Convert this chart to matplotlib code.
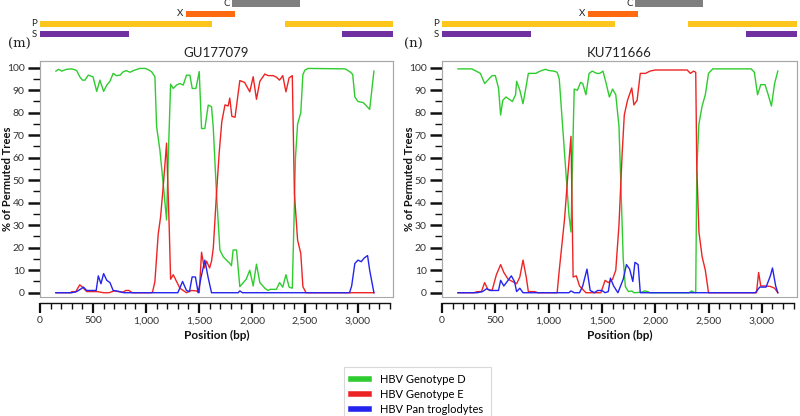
import matplotlib
matplotlib.use("Agg")
import matplotlib.pyplot as plt
from matplotlib.patches import Rectangle
from matplotlib.lines import Line2D
from matplotlib.ticker import FuncFormatter

# ---------------- data ----------------
series_names = ["HBV Genotype D", "HBV Genotype E", "HBV Pan troglodytes"]
series_colors = ["#2ecc2e", "#ee2424", "#2424ee"]

# Panel (m) GU177079 : (position bp, % permuted trees)
m_green = [(150, 98.5), (175, 99.3), (205, 98.5), (250, 99.3), (300, 99.5), (345, 98.8), (375, 96), (400, 94.5),
           (425, 94.5), (455, 96.7), (500, 96), (535, 89.5), (565, 94.5), (600, 89.5), (630, 92.3), (660, 94),
           (690, 97.5), (720, 96.5), (755, 96.7), (785, 98.2), (815, 98.7), (850, 98), (880, 98.7), (940, 99.7),
           (990, 99.7), (1020, 99.2), (1053, 98.2), (1084, 96), (1100, 73.8), (1131, 63.4), (1162, 48.6),
           (1194, 32.3), (1210, 60), (1232, 92.7), (1257, 90.8), (1288, 92.3), (1320, 93), (1351, 92.3),
           (1382, 96.7), (1414, 96.7), (1436, 90.8), (1471, 90.8), (1502, 98.3), (1524, 73), (1555, 73),
           (1587, 83.4), (1618, 82.7), (1634, 73.8), (1665, 44), (1697, 19), (1728, 16), (1759, 14.5), (1791, 13),
           (1806, 12), (1822, 19), (1854, 19), (1885, 2.7), (1945, 6), (1979, 10), (2011, 3), (2042, 12.7),
           (2074, 4.5), (2121, 2), (2152, 1), (2170, 1.5), (2230, 1.5), (2260, 4.5), (2290, 2.5), (2320, 8),
           (2350, 2.5), (2380, 2), (2395, 30), (2410, 60), (2430, 75), (2460, 80), (2480, 97), (2500, 99),
           (2530, 99.7), (2880, 99.5), (2930, 98), (2950, 97), (2970, 87), (3000, 85), (3050, 84.5), (3080, 83),
           (3110, 81.5), (3150, 98.5)]
m_red = [(150, 0), (290, 0), (300, 0.5), (335, 0.3), (375, 3.5), (400, 2.5), (420, 1.5), (440, 0.5), (480, 0.5),
         (540, 0.5), (600, 0), (650, 0), (700, 0.8), (740, 0.5), (780, 0.2), (810, 1), (840, 1), (870, 0),
         (1050, 0), (1062, 0.4), (1084, 5), (1115, 26), (1137, 33.5), (1162, 47), (1194, 66.5), (1219, 29),
         (1232, 6), (1257, 8), (1288, 5), (1320, 2), (1382, 0), (1429, 1), (1476, 0.8), (1502, 0), (1524, 18),
         (1549, 11), (1571, 14), (1600, 11), (1618, 14), (1635, 20), (1665, 44), (1690, 62), (1715, 76),
         (1745, 83.5), (1775, 83), (1790, 86.5), (1810, 78.4), (1840, 78), (1885, 94.3), (1930, 93.5),
         (1979, 89.3), (2011, 96), (2042, 86), (2074, 94), (2121, 97.2), (2152, 96.5), (2200, 96.5),
         (2230, 95.8), (2260, 94.5), (2290, 96.5), (2320, 89.3), (2350, 95.5), (2380, 96.5), (2400, 44),
         (2430, 23.4), (2460, 17.5), (2480, 2.7), (2510, 0), (3150, 0)]
m_blue = [(150, 0), (300, 0), (345, 0.5), (380, 1.5), (410, 2.5), (440, 1), (470, 1), (500, 1), (530, 1),
          (550, 7.5), (575, 4), (600, 8.5), (630, 5.5), (660, 4.5), (690, 1), (720, 0.8), (750, 0.5), (790, 0),
          (1300, 0), (1345, 5), (1382, 1), (1410, 0.5), (1435, 7), (1466, 7), (1492, 0), (1520, 7), (1555, 14.5),
          (1585, 7), (1618, 0), (1870, 0), (1885, 0.8), (1910, 0), (2920, 0), (2940, 3), (2970, 13), (3000, 14.5),
          (3030, 13.8), (3060, 15.5), (3090, 16.5), (3110, 10), (3150, 0)]

# Panel (n) KU711666
n_green = [(150, 99.5), (250, 99.5), (280, 99.5), (320, 98.5), (360, 97.5), (400, 93), (440, 95), (470, 96.5),
           (500, 96.5), (530, 91), (550, 79), (570, 85.5), (600, 87), (630, 86), (660, 85), (690, 88), (700, 94),
           (730, 90), (760, 84), (790, 92), (810, 97.5), (850, 97.5), (880, 97.5), (920, 98.5), (970, 99.3),
           (1000, 98.8), (1050, 98.5), (1080, 98), (1100, 95), (1130, 75), (1160, 55), (1190, 35), (1210, 27),
           (1225, 60), (1240, 90.5), (1270, 90), (1300, 93.5), (1320, 93), (1350, 88), (1380, 97.5), (1410, 98.5),
           (1450, 97.5), (1480, 97.5), (1510, 98.5), (1540, 93), (1570, 87), (1600, 90.5), (1630, 88), (1660, 74),
           (1680, 45), (1700, 15), (1720, 2.7), (1750, 0.5), (1780, 0.8), (1800, 0), (1870, 0.2), (1900, 0.8),
           (1930, 0.5), (1950, 0), (2320, 0), (2340, 0.8), (2360, 0.3), (2380, 0), (2390, 55), (2410, 75),
           (2440, 83), (2470, 88), (2500, 97.5), (2540, 99.5), (2900, 99.5), (2930, 98), (2960, 88), (2990, 92.5),
           (3030, 92.5), (3060, 88), (3090, 83), (3120, 93), (3150, 98.5)]
n_red = [(150, 0), (300, 0), (330, 0.5), (370, 0.5), (400, 4.5), (430, 1.5), (470, 1), (510, 8), (550, 12.5),
         (580, 9), (620, 6), (660, 5), (700, 4), (730, 7), (760, 14.5), (790, 7), (810, 0.5), (840, 0.5),
         (870, 0.5), (900, 0), (1080, 0), (1100, 10), (1150, 33), (1180, 52), (1210, 69.5), (1230, 7),
         (1260, 7.5), (1290, 3), (1350, 0), (1490, 0), (1530, 5.5), (1560, 4.5), (1600, 6), (1630, 10),
         (1660, 30), (1690, 62), (1710, 79), (1740, 85.5), (1780, 91), (1800, 83.5), (1830, 85.5), (1860, 97.5),
         (1910, 97.5), (1950, 98.5), (2000, 99), (2300, 99), (2330, 97.5), (2360, 98.5), (2380, 98), (2390, 56),
         (2410, 27), (2440, 16), (2470, 10), (2500, 0), (2950, 0), (2970, 9), (2990, 3), (3030, 3), (3080, 2.8),
         (3120, 2), (3150, 0)]
n_blue = [(150, 0), (330, 0), (380, 0.5), (420, 1.8), (450, 1), (490, 1), (530, 1), (550, 5.5), (580, 3),
          (620, 5.5), (650, 7.5), (680, 5), (700, 0.5), (730, 2), (760, 0), (1190, 0), (1210, 0.8), (1240, 0),
          (1290, 0), (1320, 3), (1360, 10.5), (1390, 1), (1430, 0), (1460, 1), (1500, 1), (1530, 0), (1560, 0.5),
          (1580, 6.5), (1610, 3), (1650, 0), (1700, 6), (1730, 12.5), (1760, 10.5), (1790, 5), (1810, 13.5),
          (1840, 12.5), (1860, 0), (2940, 0), (2980, 2.5), (3040, 2.5), (3080, 7.5), (3100, 11), (3130, 3),
          (3150, 0)]

# Gene map (bp)
gene_names = ["C", "X", "P", "S"]
gene_colors = ["#7f7f7f", "#ff6a10", "#fcc61c", "#7030a0"]
gene_segments = [[(1814, 2452)], [(1374, 1838)], [(0, 1623), (2307, 3330)], [(0, 835), (2848, 3330)]]

panel_letters = ["(m)", "(n)"]
panel_titles = ["GU177079", "KU711666"]
x_label = "Position (bp)"
y_label = "% of Permuted Trees"
x_major_ticks = [0, 500, 1000, 1500, 2000, 2500, 3000]
y_major_ticks = [0, 10, 20, 30, 40, 50, 60, 70, 80, 90, 100]

panels = [(m_green, m_red, m_blue), (n_green, n_red, n_blue)]

# ---------------- figure ----------------
W, H = 800, 416
fig = plt.figure(figsize=(W / 100, H / 100), dpi=100)
FONT = "Lato"

ax_left_px = [40, 442]
ax_right_px = [393, 797]
ylabel_right_px = [13, 415]
letter_px = [8, 404]
ax_top_px, ax_bot_px = 61, 297
XMAX = 3330


def fx(px):
    return px / W


def fy(px):
    return 1 - px / H


for i in range(2):
    l, r = ax_left_px[i], ax_right_px[i]
    ax = fig.add_axes([fx(l), fy(ax_bot_px), fx(r - l), (ax_bot_px - ax_top_px) / H])
    for series, col in zip(panels[i], series_colors):
        xs = [p for p, _ in series]
        ys = [v for _, v in series]
        ax.plot(xs, ys, color=col, lw=1.0)
    ax.set_xlim(0, XMAX)
    ax.set_ylim(-1.9, 103)

    for s in ["top", "right", "left"]:
        ax.spines[s].set_color("#a8a8a8")
        ax.spines[s].set_linewidth(0.8)
    ax.add_patch(Rectangle((0, 0), 1, 1, transform=ax.transAxes, fill=False,
                           edgecolor="#a8a8a8", lw=0.8, clip_on=False, zorder=0))
    ax.spines["bottom"].set_position(("outward", 4))
    ax.spines["bottom"].set_bounds(0, 3300)
    ax.spines["bottom"].set_color("#111111")
    ax.spines["bottom"].set_linewidth(1.0)

    ax.set_yticks(y_major_ticks)
    ax.set_yticks([v + 5 for v in y_major_ticks[:-1]], minor=True)
    ax.set_xticks(x_major_ticks)
    ax.set_xticks(list(range(0, 3301, 100)), minor=True)
    ax.xaxis.set_major_formatter(FuncFormatter(lambda v, p: f"{int(v):,}"))
    ax.tick_params(axis="x", which="major", length=7, width=1.6, color="#111111",
                   labelsize=7.5, labelcolor="#333333", pad=3)
    ax.tick_params(axis="x", which="minor", length=4, width=1.0, color="#111111")
    ax.tick_params(axis="y", which="major", length=9, width=1.8, color="#111111",
                   labelsize=7.5, labelcolor="#333333", pad=2)
    ax.tick_params(axis="y", which="minor", length=5, width=1.0, color="#111111")
    for t in ax.get_xticklabels() + ax.get_yticklabels():
        t.set_fontfamily(FONT)

    ax.set_xlabel(x_label, fontsize=8.5, fontweight="bold", family=FONT, color="#111111", labelpad=3)
    ax.set_ylabel(y_label, fontsize=8, fontweight="bold", family=FONT, color="#111111")
    ax.yaxis.set_label_coords((ylabel_right_px[i] - l) / (r - l), 0.5)
    ax.set_title(panel_titles[i], fontsize=9.5, family=FONT, color="#222222", pad=3)

    # gene map
    gax = fig.add_axes([fx(l), fy(38), fx(r - l), 38 / H])
    gax.set_xlim(0, XMAX)
    gax.set_ylim(3.38, -0.343)
    gax.axis("off")
    for row, (name, col, segs) in enumerate(zip(gene_names, gene_colors, gene_segments)):
        for (a, b) in segs:
            gax.barh(row, b - a, left=a, height=0.6, color=col, edgecolor="none")
        gax.annotate(name, xy=(segs[0][0], row), xytext=(-2, 0), textcoords="offset points",
                     ha="right", va="center", fontsize=7, family=FONT, color="#222222")

    fig.text(fx(letter_px[i]), fy(44), panel_letters[i], fontsize=9.5, family="DejaVu Serif",
             color="#222222", ha="left", va="center")

handles = [Line2D([], [], color=c, lw=4) for c in series_colors]
leg = fig.legend(handles, series_names, loc="upper left", bbox_to_anchor=(338 / W, fy(361)),
                 frameon=True, fancybox=False, edgecolor="#d0d0d0", handlelength=1.6,
                 prop={"family": FONT, "size": 8}, borderpad=0.7, labelspacing=0.35, handletextpad=1.0)
leg.get_frame().set_linewidth(0.8)

fig.savefig("out.png", dpi=100)
